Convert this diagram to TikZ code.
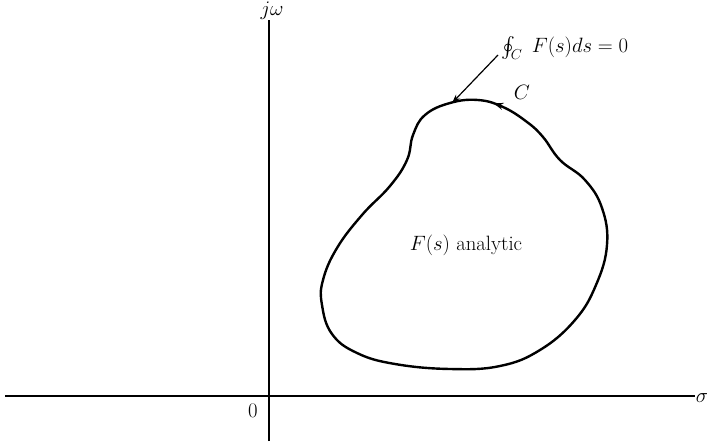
\documentclass[tikz,border=0pt]{standalone}
\usepackage{exscale}
\usetikzlibrary{arrows.meta,decorations.markings}

\begin{document}
\begin{tikzpicture}[x=1pt,y=-1pt
,pstyle0/.style={color=black,line width=1.3pt}
,pstyle1/.style={color=black,line width=2.4pt,line join=round}
,pstyle2/.style={color=black,line width=1.2pt,-{Stealth[length=9pt,width=6pt]}}
,pstyle3/.style={color=black,inner sep=0,font=\huge}
]
\useasboundingbox (0,0) rectangle (707,442);
% axes
\coordinate (xl) at (5,396);
\coordinate (xr) at (695,396);
\coordinate (yb) at (269,441);
\coordinate (yt) at (269,20);
\draw[pstyle0] (xl) -- (xr);
\draw[pstyle0] (yb) -- (yt);
\node[pstyle3] (sigma) at (702,398) {$\sigma$};
\node[pstyle3] (jw) at (272,11) {$j\omega$};
\node[pstyle3] (origin) at (253,411) {$0$};
% contour C
\draw[pstyle1,postaction={decorate},decoration={markings,
  mark=at position 0.012 with {\arrow{Stealth[length=10pt,width=7pt]}}}]
  plot[smooth cycle,tension=0.7] coordinates {
  (527,122) (503,107) (478,100) (450,103) (425,115) (413,135) (407,160)
  (390,186) (362,215) (337,248) (323,280) (322,305) (332,334) (357,353)
  (395,364) (450,369) (500,366) (540,350) (575,320) (596,285) (607,245)
  (602,208) (585,180) (560,160) (543,137)};
\coordinate (tip) at (452,103);
\node[pstyle3,anchor=west] (integ) at (501,48) {$\oint_C\; F(s)ds = 0$};
\draw[pstyle2] (integ.west) ++(-3,7) -- (tip);
\node[pstyle3] (cname) at (522,92) {$C$};
\node[pstyle3] (region) at (466,245) {$F(s)$ analytic};
\end{tikzpicture}
\end{document}
